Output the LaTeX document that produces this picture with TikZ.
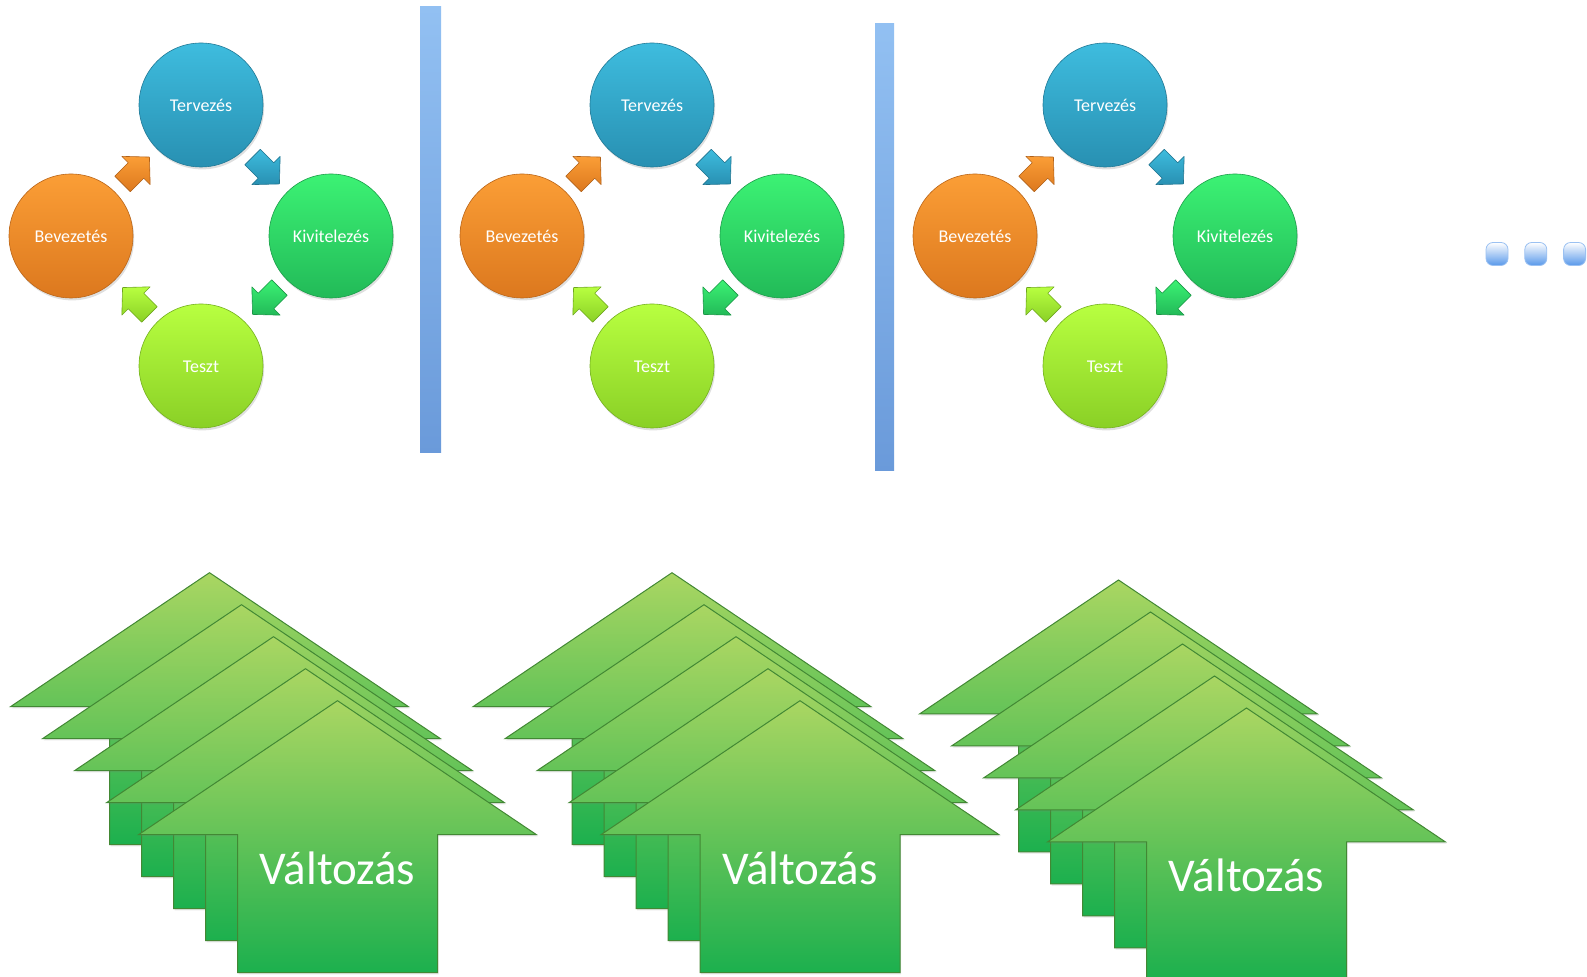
\documentclass[tikz,border=0pt]{standalone}
\usepackage{fontspec}
\setmainfont{Carlito}
\usetikzlibrary{calc, positioning, shadows}

\definecolor{tervtop}{RGB}{62,188,222}
\definecolor{tervbot}{RGB}{40,144,178}
\definecolor{kivtop}{RGB}{60,242,116}
\definecolor{kivbot}{RGB}{34,186,88}
\definecolor{testop}{RGB}{184,255,64}
\definecolor{tesbot}{RGB}{138,208,38}
\definecolor{bevtop}{RGB}{251,158,54}
\definecolor{bevbot}{RGB}{220,120,30}
\definecolor{bartop}{RGB}{146,192,242}
\definecolor{barbot}{RGB}{106,154,218}
\definecolor{dotblue}{RGB}{88,152,234}
\definecolor{uptop}{RGB}{170,214,98}
\definecolor{upmid}{RGB}{110,192,90}
\definecolor{upbot}{RGB}{28,176,78}
\definecolor{upline}{RGB}{66,136,52}

\tikzset{
  Circ/.style={circle, minimum size=62pt, inner sep=0pt, top color=#1top, bottom color=#1bot,
    draw=#1bot!85!black, line width=0.3pt, text=white, font=\fontsize{9}{10}\selectfont,
    text height=0.65em, text depth=0pt,
    drop shadow={opacity=0.25, shadow xshift=0.6pt, shadow yshift=-1.2pt}},
  Small/.style={top color=#1top, bottom color=#1bot, draw=#1bot!80!black, line width=0.3pt, line join=round},
  Up/.style={top color=uptop, middle color=upmid, bottom color=upbot, draw=upline, line width=0.5pt,
    drop shadow={opacity=0.2, shadow xshift=0.6pt, shadow yshift=-0.8pt}},
  Label/.style={anchor=base, text=white, font=\fontsize{23.5}{26}\selectfont, inner sep=0pt},
  Bar/.style={top color=bartop, bottom color=barbot},
  Dot/.style={rectangle, rounded corners=3.5pt, minimum width=11pt, minimum height=11.5pt, inner sep=0pt,
    top color=white, bottom color=dotblue, draw=dotblue!60}
}

\begin{document}
\begin{tikzpicture}[x=0.5pt, y=-0.5pt]
\useasboundingbox (0,0) rectangle (1587,977);
\fill[Bar] (420,7) rectangle (441,453);
\fill[Bar] (875,24) rectangle (894,471);
\foreach \cx [count=\i] in {201,652,1105} {
  \node[Circ=terv] (terv\i) at (\cx,105) {Tervezés};
  \node[Circ=kiv] (kiv\i) at (\cx+130,236) {Kivitelezés};
  \node[Circ=tes] (tes\i) at (\cx,366) {Teszt};
  \node[Circ=bev] (bev\i) at (\cx-130,236) {Bevezetés};
  \foreach \a/\b/\r in {bev/terv/45, terv/kiv/-45, kiv/tes/-135, tes/bev/135}
    \path[Small=\a, shift={($(\a\i)!0.5!(\b\i)$)}, rotate=\r]
      (-19,-11) -- (0,-11) -- (0,-20) -- (19,0) -- (0,20) -- (0,11) -- (-19,11) -- cycle;
}
\node[Dot] (d1) at (1497,254) {};
\node[Dot, right=8pt of d1] (d2) {};
\node[Dot, right=8pt of d2] (d3) {};
\foreach \sx/\sy [count=\s] in {209.5/572.7, 672/572.7, 1118.5/580} {
  \foreach \k in {0,...,4}
    \path[Up, shift={(\sx+32*\k,\sy+32*\k)}]
      (0,0) -- (199,134) -- (100,134) -- (100,272) -- (-100,272) -- (-100,134) -- (-199,134) -- cycle;
  \node[Label] (v\s) at (\sx+128,\sy+128+184) {Változás};
}
\end{tikzpicture}
\end{document}
